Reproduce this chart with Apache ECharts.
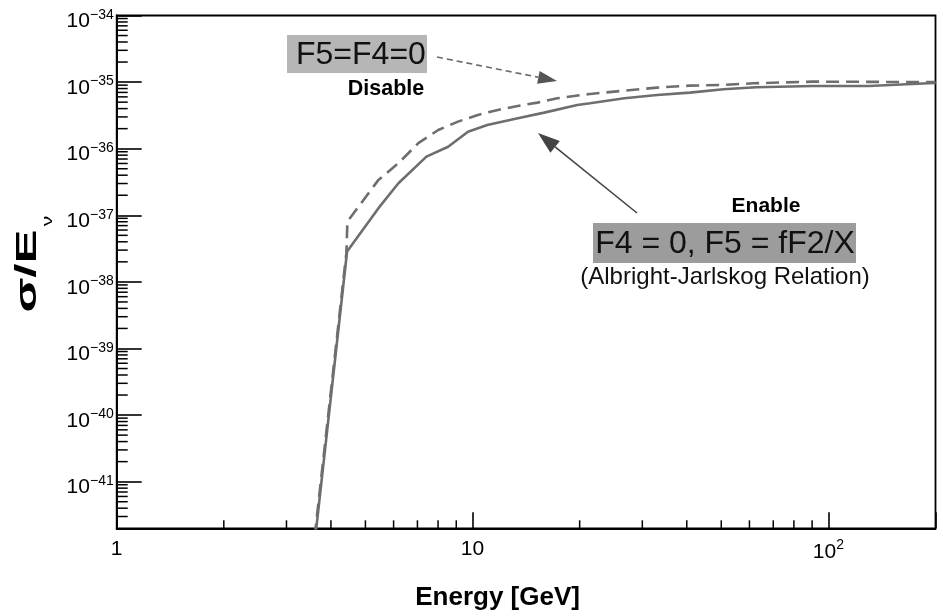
<!DOCTYPE html>
<html><head><meta charset="utf-8">
<script src="https://cdn.jsdelivr.net/npm/echarts@6/dist/echarts.min.js"></script>
<style>html,body{margin:0;padding:0;background:#fff}#c{width:943px;height:616px}</style>
</head><body><div id="c"></div>
<script>
// ---- data (sigma/E in original units) ----
const energySolid = [3.6, 4.44, 5.44, 6.19, 7.42, 8.54, 9.71, 11.0, 13.4, 15.9, 19.7, 21.4, 26.7, 33.0, 40.8, 50.7, 62.7, 90.5, 130, 191, 200];
const sigmaSolid  = [1.2e-42, 2.86e-38, 1.28e-37, 3.03e-37, 7.6e-37, 1.07e-36, 1.80e-36, 2.27e-36, 2.87e-36, 3.48e-36, 4.54e-36, 4.81e-36, 5.72e-36, 6.41e-36, 6.95e-36, 7.81e-36, 8.37e-36, 8.75e-36, 8.75e-36, 9.6e-36, 9.7e-36];
const energyDashed = [3.6, 4.42, 4.45, 5.44, 6.19, 7.04, 8.01, 9.10, 10.35, 11.78, 13.39, 15.23, 17.3, 21.4, 26.7, 33.0, 40.8, 50.7, 61.5, 90.5, 191, 200];
const sigmaDashed  = [1.5e-42, 2.7e-38, 8.05e-38, 3.40e-37, 6.05e-37, 1.21e-36, 1.91e-36, 2.55e-36, 3.21e-36, 3.82e-36, 4.39e-36, 4.92e-36, 5.72e-36, 6.64e-36, 7.44e-36, 8.26e-36, 8.85e-36, 9.06e-36, 9.6e-36, 1.016e-35, 1.0e-35, 1.0e-35];

const yTickExponents = [-41, -40, -39, -38, -37, -36, -35, -34];
const yTickLabels = ['−41', '−40', '−39', '−38', '−37', '−36', '−35', '−34'];
const xTickValues = [1, 10, 100];
const xTickLabels = ['1', '10', '{b|10}{s|2}'];
const minorMantissas = [2, 3, 4, 5, 6, 7, 8, 9];

// y is drawn on a value axis in decades (log10 of sigma/E), x on a log axis
const Y_MIN_DEC = -41.7, Y_MAX_DEC = -34, X_MIN = 1, X_MAX = 200;
const FONT = "'Liberation Sans', Arial, Helvetica, sans-serif";

const yMinor = [];
for (let e = -42; e <= -35; e++) for (const m of minorMantissas) {
  const d = e + Math.log10(m);
  if (d > Y_MIN_DEC + 0.02 && d < Y_MAX_DEC) yMinor.push([X_MIN, d]);
}
const xMinor = [];
for (let e = 0; e <= 1; e++) for (const m of minorMantissas) xMinor.push([m * Math.pow(10, e), Y_MIN_DEC]);

function arrow(x1, y1, x2, y2, headLen, headW, lineColor, headColor, dash) {
  const ang = Math.atan2(y2 - y1, x2 - x1);
  const bx = x2 - headLen * Math.cos(ang), by = y2 - headLen * Math.sin(ang);
  const nx = -Math.sin(ang), ny = Math.cos(ang);
  return [
    { type: 'line', z: 50, shape: { x1: x1, y1: y1, x2: bx, y2: by }, style: { stroke: lineColor, lineWidth: 1.6, lineDash: dash || null } },
    { type: 'polygon', z: 50, shape: { points: [[x2, y2], [bx + nx * headW / 2, by + ny * headW / 2], [bx - nx * headW / 2, by - ny * headW / 2]] }, style: { fill: headColor } }
  ];
}

const chart = echarts.init(document.getElementById('c'), null, { renderer: 'canvas' });
const labelRich = {
  b: { fontSize: 21, fontFamily: FONT, color: '#000', lineHeight: 24, verticalAlign: 'bottom' },
  s: { fontSize: 14, fontFamily: FONT, color: '#000', lineHeight: 14, verticalAlign: 'top' }
};

chart.setOption({
  animation: false,
  backgroundColor: '#fff',
  grid: { left: 116.7, right: 7.5, top: 15.5, bottom: 87.7, show: true, borderColor: '#000', borderWidth: 1.8, containLabel: false, outerBoundsMode: 'none' },
  xAxis: {
    type: 'log', logBase: 10, min: X_MIN, max: X_MAX,
    axisLine: { lineStyle: { color: '#000', width: 1.8 } },
    axisTick: { inside: true, length: 16, lineStyle: { color: '#000', width: 1.6 } },
    splitLine: { show: false },
    axisLabel: {
      margin: 10, fontSize: 21, fontFamily: FONT, color: '#000', rich: labelRich,
      formatter: function (v) {
        for (let i = 0; i < xTickValues.length; i++) if (Math.abs(Math.log10(v) - Math.log10(xTickValues[i])) < 1e-6) return xTickLabels[i];
        return '';
      }
    },
    name: 'Energy [GeV]', nameLocation: 'middle', nameGap: 57,
    nameTextStyle: { fontSize: 26, fontWeight: 'bold', fontFamily: FONT, color: '#000', padding: [0, 57, 0, 0] }
  },
  yAxis: {
    type: 'value', min: Y_MIN_DEC, max: Y_MAX_DEC, splitNumber: 8,
    axisLine: { lineStyle: { color: '#000', width: 1.8 } },
    axisTick: { inside: true, length: 25, lineStyle: { color: '#000', width: 1.6 } },
    splitLine: { show: false },
    axisLabel: {
      margin: 3, rich: labelRich, padding: [9, 0, 0, 0],
      formatter: function (v) {
        if (Math.abs(v - Math.round(v)) > 1e-6) return '';
        const i = yTickExponents.indexOf(Math.round(v));
        return i < 0 ? '' : '{b|10}{s|' + yTickLabels[i] + '}';
      }
    }
  },
  series: [
    {
      type: 'line', name: 'Disable', data: energyDashed.map((e, i) => [e, Math.log10(sigmaDashed[i])]),
      showSymbol: false, symbol: 'none', smooth: false,
      lineStyle: { color: '#6e6e6e', width: 2.6, type: [13, 7] }, z: 3
    },
    {
      type: 'line', name: 'Enable', data: energySolid.map((e, i) => [e, Math.log10(sigmaSolid[i])]),
      showSymbol: false, symbol: 'none', smooth: false,
      lineStyle: { color: '#6e6e6e', width: 2.6 }, z: 4
    },
    {
      type: 'custom', silent: true, data: yMinor, clip: false, z: 5,
      renderItem: function (params, api) {
        const p = api.coord([api.value(0), api.value(1)]);
        return { type: 'line', shape: { x1: p[0], y1: p[1], x2: p[0] + 11, y2: p[1] }, style: { stroke: '#000', lineWidth: 1.5 } };
      }
    },
    {
      type: 'custom', silent: true, data: xMinor, clip: false, z: 5,
      renderItem: function (params, api) {
        const p = api.coord([api.value(0), api.value(1)]);
        return { type: 'line', shape: { x1: p[0], y1: p[1], x2: p[0], y2: p[1] - 8 }, style: { stroke: '#000', lineWidth: 1.5 } };
      }
    }
  ],
  graphic: [
    // y-axis title (rotated, stretched like the reference)
    { type: 'text', z: 41, x: 28, y: 271, rotation: Math.PI / 2, scaleX: 1.7, scaleY: 1,
      style: { text: 'σ/E', fontSize: 30, fontWeight: 'bold', fontFamily: FONT, fill: '#000', align: 'center', verticalAlign: 'middle' } },
    { type: 'text', z: 41, x: 48, y: 221, rotation: Math.PI / 2, scaleX: 1.4, scaleY: 1,
      style: { text: 'ν', fontSize: 15, fontFamily: FONT, fill: '#000', align: 'center', verticalAlign: 'middle' } },
    // annotations
    { type: 'rect', z: 40, shape: { x: 287, y: 35, width: 140, height: 38 }, style: { fill: '#b6b6b6' } },
    { type: 'text', z: 41, style: { x: 296, y: 55, text: 'F5=F4=0', fontSize: 32, fontFamily: FONT, fill: '#111', align: 'left', verticalAlign: 'middle' } },
    { type: 'text', z: 41, style: { x: 386, y: 89, text: 'Disable', fontSize: 21.5, fontWeight: 'bold', fontFamily: FONT, fill: '#000', align: 'center', verticalAlign: 'middle' } },
    { type: 'text', z: 41, style: { x: 766, y: 206, text: 'Enable', fontSize: 21, fontWeight: 'bold', fontFamily: FONT, fill: '#000', align: 'center', verticalAlign: 'middle' } },
    { type: 'rect', z: 40, shape: { x: 593, y: 223, width: 263, height: 40 }, style: { fill: '#9c9c9c' } },
    { type: 'text', z: 41, style: { x: 725, y: 244, text: 'F4 = 0, F5 = fF2/X', fontSize: 32, fontFamily: FONT, fill: '#111', align: 'center', verticalAlign: 'middle' } },
    { type: 'text', z: 41, style: { x: 725, y: 277, text: '(Albright-Jarlskog Relation)', fontSize: 24, fontFamily: FONT, fill: '#111', align: 'center', verticalAlign: 'middle' } }
  ].concat(
    arrow(437, 57, 557, 81, 19, 13, '#6a6a6a', '#555', [6, 4]),
    arrow(637, 213, 538, 133, 22, 15, '#444', '#444', null)
  )
});
</script></body></html>
